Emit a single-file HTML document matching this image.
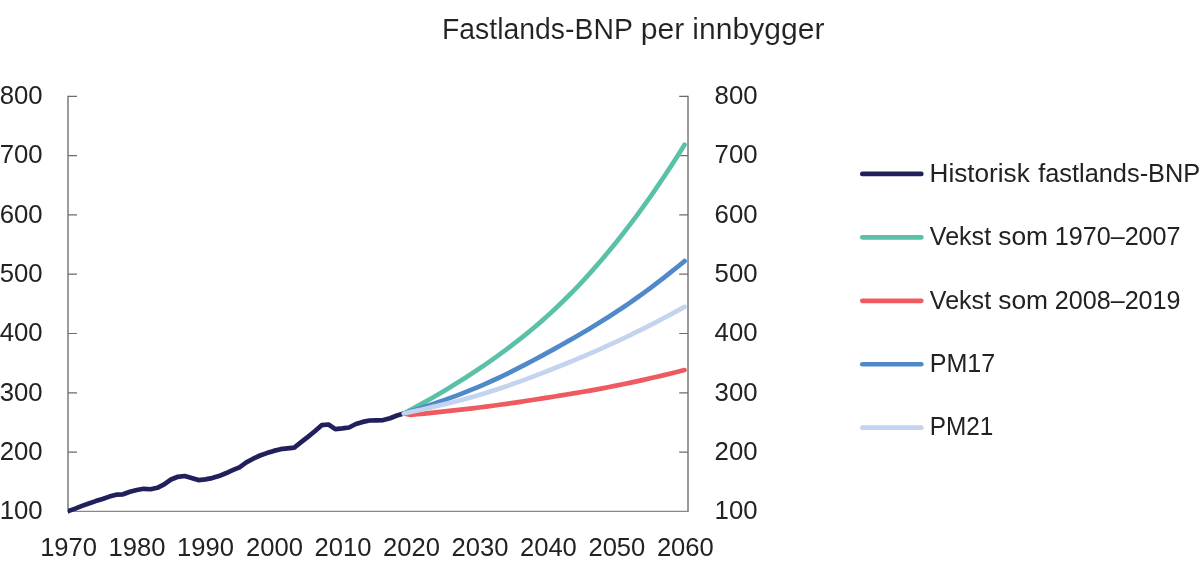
<!DOCTYPE html>
<html><head><meta charset="utf-8"><title>Fastlands-BNP per innbygger</title>
<style>
html,body{margin:0;padding:0;background:#fff;}
body{width:1200px;height:578px;overflow:hidden;font-family:"Liberation Sans",sans-serif;}
svg{display:block}
text{font-family:"Liberation Sans",sans-serif;fill:#222222;}
.tx{filter:grayscale(1)}
.tt{stroke:#fff;stroke-width:0.1px;paint-order:fill stroke}
.ax{stroke:#86888c;stroke-width:1.35;fill:none}
.axv{stroke:#888a8e;stroke-width:1.7;fill:none}
.tk{stroke:#6c6c6c;stroke-width:1.2;fill:none}
.ln{fill:none;stroke-width:4.7;stroke-linejoin:round;stroke-linecap:round}
</style></head><body>
<svg width="1200" height="578" viewBox="0 0 1200 578">
<rect width="1200" height="578" fill="#fff"/>

<text class="tx tt" x="441.99" y="38.90" font-size="29.5" textLength="190.88" lengthAdjust="spacingAndGlyphs">Fastlands-BNP</text>
<text class="tx tt" x="640.86" y="38.90" font-size="29.5" textLength="43.54" lengthAdjust="spacingAndGlyphs">per</text>
<text class="tx tt" x="692.36" y="38.90" font-size="29.5" textLength="132.13" lengthAdjust="spacingAndGlyphs">innbygger</text>
<path class="axv" d="M68,95.7 V511.4 M688.0,95.7 V511.4"/>
<path class="ax" d="M67.15,511.4 H688.85"/>
<path class="tk" d="M68,452.1 h9 M688.0,452.1 h-8.8 M68,392.8 h9 M688.0,392.8 h-8.8 M68,333.5 h9 M688.0,333.5 h-8.8 M68,274.2 h9 M688.0,274.2 h-8.8 M68,214.9 h9 M688.0,214.9 h-8.8 M68,155.6 h9 M688.0,155.6 h-8.8 M68,96.3 h9 M688.0,96.3 h-8.8"/>
<text class="tx" x="-0.32" y="519.10" font-size="26.3" textLength="42.94" lengthAdjust="spacingAndGlyphs">100</text>
<text class="tx" x="714.58" y="519.10" font-size="26.3" textLength="42.94" lengthAdjust="spacingAndGlyphs">100</text>
<text class="tx" x="-0.32" y="459.80" font-size="26.3" textLength="42.94" lengthAdjust="spacingAndGlyphs">200</text>
<text class="tx" x="714.58" y="459.80" font-size="26.3" textLength="42.94" lengthAdjust="spacingAndGlyphs">200</text>
<text class="tx" x="-0.32" y="400.50" font-size="26.3" textLength="42.94" lengthAdjust="spacingAndGlyphs">300</text>
<text class="tx" x="714.58" y="400.50" font-size="26.3" textLength="42.94" lengthAdjust="spacingAndGlyphs">300</text>
<text class="tx" x="-0.32" y="341.20" font-size="26.3" textLength="42.94" lengthAdjust="spacingAndGlyphs">400</text>
<text class="tx" x="714.58" y="341.20" font-size="26.3" textLength="42.94" lengthAdjust="spacingAndGlyphs">400</text>
<text class="tx" x="-0.32" y="281.90" font-size="26.3" textLength="42.94" lengthAdjust="spacingAndGlyphs">500</text>
<text class="tx" x="714.58" y="281.90" font-size="26.3" textLength="42.94" lengthAdjust="spacingAndGlyphs">500</text>
<text class="tx" x="-0.32" y="222.60" font-size="26.3" textLength="42.94" lengthAdjust="spacingAndGlyphs">600</text>
<text class="tx" x="714.58" y="222.60" font-size="26.3" textLength="42.94" lengthAdjust="spacingAndGlyphs">600</text>
<text class="tx" x="-0.32" y="163.30" font-size="26.3" textLength="42.94" lengthAdjust="spacingAndGlyphs">700</text>
<text class="tx" x="714.58" y="163.30" font-size="26.3" textLength="42.94" lengthAdjust="spacingAndGlyphs">700</text>
<text class="tx" x="-0.32" y="104.00" font-size="26.3" textLength="42.94" lengthAdjust="spacingAndGlyphs">800</text>
<text class="tx" x="714.58" y="104.00" font-size="26.3" textLength="42.94" lengthAdjust="spacingAndGlyphs">800</text>
<text class="tx" x="40.15" y="556.00" font-size="26.3" textLength="56.93" lengthAdjust="spacingAndGlyphs">1970</text>
<text class="tx" x="108.62" y="556.00" font-size="26.3" textLength="56.93" lengthAdjust="spacingAndGlyphs">1980</text>
<text class="tx" x="177.09" y="556.00" font-size="26.3" textLength="56.93" lengthAdjust="spacingAndGlyphs">1990</text>
<text class="tx" x="246.06" y="556.00" font-size="26.3" textLength="56.93" lengthAdjust="spacingAndGlyphs">2000</text>
<text class="tx" x="314.53" y="556.00" font-size="26.3" textLength="56.93" lengthAdjust="spacingAndGlyphs">2010</text>
<text class="tx" x="383.00" y="556.00" font-size="26.3" textLength="56.93" lengthAdjust="spacingAndGlyphs">2020</text>
<text class="tx" x="451.47" y="556.00" font-size="26.3" textLength="56.93" lengthAdjust="spacingAndGlyphs">2030</text>
<text class="tx" x="519.94" y="556.00" font-size="26.3" textLength="56.93" lengthAdjust="spacingAndGlyphs">2040</text>
<text class="tx" x="588.41" y="556.00" font-size="26.3" textLength="56.93" lengthAdjust="spacingAndGlyphs">2050</text>
<text class="tx" x="656.88" y="556.00" font-size="26.3" textLength="56.93" lengthAdjust="spacingAndGlyphs">2060</text>
<path class="ln" stroke="#5bc0a8" d="M403.80,413.50 L410.65,409.88 L417.50,406.17 L424.34,402.38 L431.19,398.50 L438.04,394.53 L444.89,390.47 L451.73,386.31 L458.58,382.06 L465.43,377.72 L472.27,373.27 L479.12,368.72 L485.97,364.07 L492.81,359.31 L499.66,354.42 L506.51,349.40 L513.36,344.23 L520.20,338.91 L527.05,333.43 L533.90,327.76 L540.74,321.90 L547.59,315.83 L554.44,309.53 L561.28,303.01 L568.13,296.26 L574.98,289.27 L581.82,282.05 L588.67,274.59 L595.52,266.90 L602.37,258.97 L609.21,250.81 L616.06,242.42 L622.91,233.78 L629.75,224.91 L636.60,215.80 L643.45,206.44 L650.29,196.82 L657.14,186.94 L663.99,176.79 L670.84,166.37 L677.68,155.67 L684.53,144.69"/>
<path class="ln" stroke="#ef5a60" d="M403.80,413.50 L410.65,414.92 L417.50,414.24 L424.34,413.56 L431.19,412.86 L438.04,412.16 L444.89,411.44 L451.73,410.70 L458.58,409.94 L465.43,409.16 L472.27,408.35 L479.12,407.51 L485.97,406.63 L492.81,405.73 L499.66,404.79 L506.51,403.83 L513.36,402.84 L520.20,401.83 L527.05,400.79 L533.90,399.74 L540.74,398.68 L547.59,397.60 L554.44,396.52 L561.28,395.42 L568.13,394.30 L574.98,393.16 L581.82,392.00 L588.67,390.81 L595.52,389.58 L602.37,388.33 L609.21,387.03 L616.06,385.68 L622.91,384.29 L629.75,382.86 L636.60,381.37 L643.45,379.85 L650.29,378.30 L657.14,376.71 L663.99,375.09 L670.84,373.44 L677.68,371.77 L684.53,370.09"/>
<path class="ln" stroke="#4f89c9" d="M403.80,413.50 L410.65,411.34 L417.50,409.14 L424.34,406.90 L431.19,404.62 L438.04,402.27 L444.89,399.87 L451.73,397.39 L458.58,394.83 L465.43,392.18 L472.27,389.43 L479.12,386.57 L485.97,383.60 L492.81,380.51 L499.66,377.32 L506.51,374.03 L513.36,370.64 L520.20,367.16 L527.05,363.61 L533.90,360.00 L540.74,356.32 L547.59,352.59 L554.44,348.83 L561.28,345.02 L568.13,341.17 L574.98,337.26 L581.82,333.28 L588.67,329.22 L595.52,325.09 L602.37,320.86 L609.21,316.53 L616.06,312.09 L622.91,307.53 L629.75,302.84 L636.60,298.03 L643.45,293.10 L650.29,288.05 L657.14,282.89 L663.99,277.61 L670.84,272.21 L677.68,266.71 L684.53,261.09"/>
<clipPath id="cl"><rect x="68.0" y="90" width="640" height="440"/></clipPath>
<path class="ln" stroke="#22205c" clip-path="url(#cl)" d="M61.45,514.20 L68.30,511.10 L75.15,508.60 L81.99,505.90 L88.84,503.50 L95.69,501.10 L102.53,499.00 L109.38,496.60 L116.23,494.65 L123.08,494.30 L129.92,491.70 L136.77,490.00 L143.62,488.80 L150.46,489.25 L157.31,487.80 L164.16,484.40 L171.00,479.50 L177.85,476.80 L184.70,476.00 L191.55,477.90 L198.39,480.10 L205.24,479.40 L212.09,478.10 L218.93,476.10 L225.78,473.30 L232.63,470.20 L239.48,467.35 L246.32,462.40 L253.17,458.70 L260.02,455.50 L266.86,453.10 L273.71,450.90 L280.56,449.20 L287.40,448.40 L294.25,447.70 L301.10,442.20 L307.94,436.80 L314.79,431.20 L321.64,425.20 L328.49,424.50 L335.33,429.10 L342.18,428.40 L349.03,427.50 L355.87,424.00 L362.72,421.90 L369.57,420.50 L376.42,420.30 L383.26,420.10 L390.11,418.20 L396.96,415.50 L403.80,413.50"/>
<path class="ln" stroke="#c5d4ee" d="M403.80,413.50 L410.65,412.01 L417.50,410.50 L424.34,408.97 L431.19,407.41 L438.04,405.80 L444.89,404.16 L451.73,402.46 L458.58,400.70 L465.43,398.87 L472.27,396.97 L479.12,394.99 L485.97,392.92 L492.81,390.77 L499.66,388.53 L506.51,386.22 L513.36,383.83 L520.20,381.37 L527.05,378.85 L533.90,376.28 L540.74,373.65 L547.59,370.98 L554.44,368.27 L561.28,365.52 L568.13,362.73 L574.98,359.89 L581.82,357.01 L588.67,354.08 L595.52,351.09 L602.37,348.05 L609.21,344.96 L616.06,341.80 L622.91,338.58 L629.75,335.30 L636.60,331.96 L643.45,328.55 L650.29,325.09 L657.14,321.56 L663.99,317.97 L670.84,314.33 L677.68,310.63 L684.53,306.87"/>
<path class="ln" stroke="#22205c" d="M862.3,173.90 H921.3"/>
<path class="ln" stroke="#5bc0a8" d="M862.3,237.35 H921.3"/>
<path class="ln" stroke="#ef5a60" d="M862.3,300.80 H921.3"/>
<path class="ln" stroke="#4f89c9" d="M862.3,364.25 H921.3"/>
<path class="ln" stroke="#c5d4ee" d="M862.3,427.70 H921.3"/>
<text class="tx" x="929.57" y="181.85" font-size="25.8" textLength="100.18" lengthAdjust="spacingAndGlyphs">Historisk</text>
<text class="tx" x="1038.15" y="181.85" font-size="25.8" textLength="162.11" lengthAdjust="spacingAndGlyphs">fastlands-BNP</text>
<text class="tx" x="929.86" y="245.25" font-size="25.8" textLength="61.25" lengthAdjust="spacingAndGlyphs">Vekst</text>
<text class="tx" x="998.23" y="245.25" font-size="25.8" textLength="49.86" lengthAdjust="spacingAndGlyphs">som</text>
<text class="tx" x="1054.75" y="245.25" font-size="25.8" textLength="125.79" lengthAdjust="spacingAndGlyphs">1970–2007</text>
<text class="tx" x="929.86" y="308.65" font-size="25.8" textLength="61.25" lengthAdjust="spacingAndGlyphs">Vekst</text>
<text class="tx" x="998.23" y="308.65" font-size="25.8" textLength="49.86" lengthAdjust="spacingAndGlyphs">som</text>
<text class="tx" x="1054.75" y="308.65" font-size="25.8" textLength="125.79" lengthAdjust="spacingAndGlyphs">2008–2019</text>
<text class="tx" x="929.65" y="372.05" font-size="25.8" textLength="65.6" lengthAdjust="spacingAndGlyphs">PM17</text>
<text class="tx" x="929.71" y="435.45" font-size="25.8" textLength="63.56" lengthAdjust="spacingAndGlyphs">PM21</text>
</svg></body></html>
